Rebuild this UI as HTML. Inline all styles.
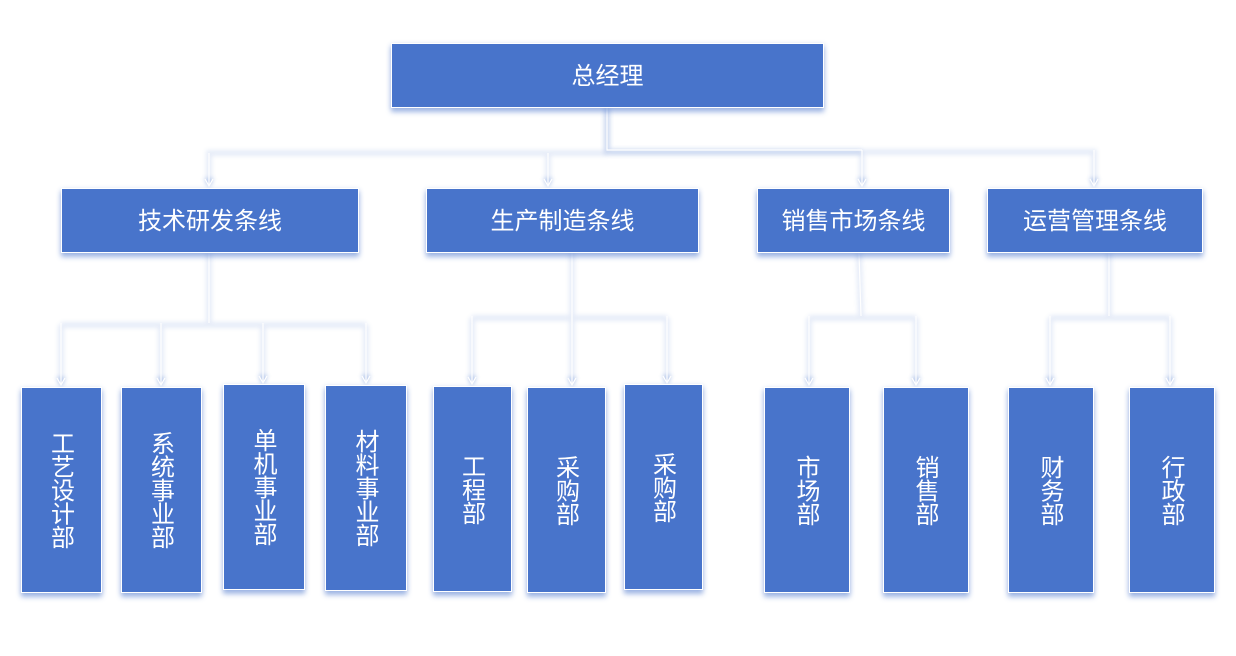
<!DOCTYPE html>
<html lang="zh">
<head>
<meta charset="utf-8">
<style>
html,body{margin:0;padding:0;background:#fff}
body{width:1236px;height:656px;position:relative;overflow:hidden;font-family:"Liberation Sans","Noto Sans CJK SC",sans-serif}
.b{position:absolute;box-sizing:border-box;background:#4874cb;border:1px solid #fff;color:#fff;font-size:24px;font-weight:400;display:flex;align-items:center;justify-content:center;box-shadow:0 4px 5px rgba(72,116,203,.48),0 1px 5px rgba(72,116,203,.18);line-height:1}
.b>span{position:relative;top:1px}
.b>span.v{writing-mode:vertical-rl;text-orientation:upright;letter-spacing:-.5px;left:-2px;top:0}
svg{position:absolute;left:0;top:0}
.s{stroke:#4874cb;stroke-width:6;fill:none;opacity:.13;filter:blur(2px)}
.s2{stroke:#4874cb;stroke-width:6;fill:none;opacity:.16;filter:blur(2px)}
.a{fill:#4874cb;opacity:.3;filter:blur(2px)}
.l{stroke:#fff;stroke-width:1.2;fill:none}
</style>
</head>
<body>
<svg width="1236" height="656" viewBox="0 0 1236 656">
<g class="s">
<path d="M607 108V152H1094V185M607 153H209V185M548 153V185M862 153V185M209 253V325M61 325H366M61 325V385M161 325V385M263 325V383M366 325V383M572 253V318M472 318H667M472 318V384M572 318V385M667 318V383M859 253L861 318M809 318H916M809 318V385M916 318V385M1109 253V318M1050 318H1170M1050 318V385M1170 318V385"/>
</g>
<path class="s2" d="M607 108V152H862"/>
<g class="a">
<path d="M204 178h10l-5 10zM543 178h10l-5 10zM857 178h10l-5 10zM1089 178h10l-5 10zM56 377h10l-5 10zM156 377h10l-5 10zM258 375h10l-5 10zM361 375h10l-5 10zM467 376h10l-5 10zM567 377h10l-5 10zM662 375h10l-5 10zM804 377h10l-5 10zM911 377h10l-5 10zM1045 377h10l-5 10zM1165 377h10l-5 10z"/>
</g>
<g class="l">
<path d="M607 108V150H862M209 153V186M548 153V186M862 150V186M1094 150V186M209 253V323M61 323V385M161 323V385M263 323V383M366 323V383M572 253V316M472 316V384M572 316V385M667 316V383M859 253L861 316M809 316V385M916 316V385M1109 253V316M1050 316V385M1170 316V385"/>
<path d="M205 179l4 7 4-7M544 179l4 7 4-7M858 179l4 7 4-7M1090 179l4 7 4-7M57 378l4 7 4-7M157 378l4 7 4-7M259 376l4 7 4-7M362 376l4 7 4-7M468 377l4 7 4-7M568 378l4 7 4-7M663 376l4 7 4-7M805 378l4 7 4-7M912 378l4 7 4-7M1046 378l4 7 4-7M1166 378l4 7 4-7"/>
</g>
</svg>

<div class="b" style="left:391px;top:43px;width:433px;height:65px"><span>总经理</span></div>

<div class="b" style="left:61px;top:188px;width:298px;height:65px"><span>技术研发条线</span></div>
<div class="b" style="left:426px;top:188px;width:273px;height:65px"><span>生产制造条线</span></div>
<div class="b" style="left:757px;top:188px;width:193px;height:65px"><span>销售市场条线</span></div>
<div class="b" style="left:987px;top:188px;width:216px;height:65px"><span>运营管理条线</span></div>

<div class="b" style="left:21px;top:387px;width:81px;height:206px"><span class="v">工艺设计部</span></div>
<div class="b" style="left:121px;top:387px;width:81px;height:206px"><span class="v">系统事业部</span></div>
<div class="b" style="left:223px;top:384px;width:82px;height:206px"><span class="v">单机事业部</span></div>
<div class="b" style="left:325px;top:385px;width:82px;height:206px"><span class="v">材料事业部</span></div>
<div class="b" style="left:433px;top:386px;width:79px;height:206px"><span class="v">工程部</span></div>
<div class="b" style="left:527px;top:387px;width:79px;height:206px"><span class="v">采购部</span></div>
<div class="b" style="left:624px;top:384px;width:79px;height:206px"><span class="v">采购部</span></div>
<div class="b" style="left:764px;top:387px;width:86px;height:206px"><span class="v">市场部</span></div>
<div class="b" style="left:883px;top:387px;width:86px;height:206px"><span class="v">销售部</span></div>
<div class="b" style="left:1008px;top:387px;width:86px;height:206px"><span class="v">财务部</span></div>
<div class="b" style="left:1129px;top:387px;width:86px;height:206px"><span class="v">行政部</span></div>
</body>
</html>
